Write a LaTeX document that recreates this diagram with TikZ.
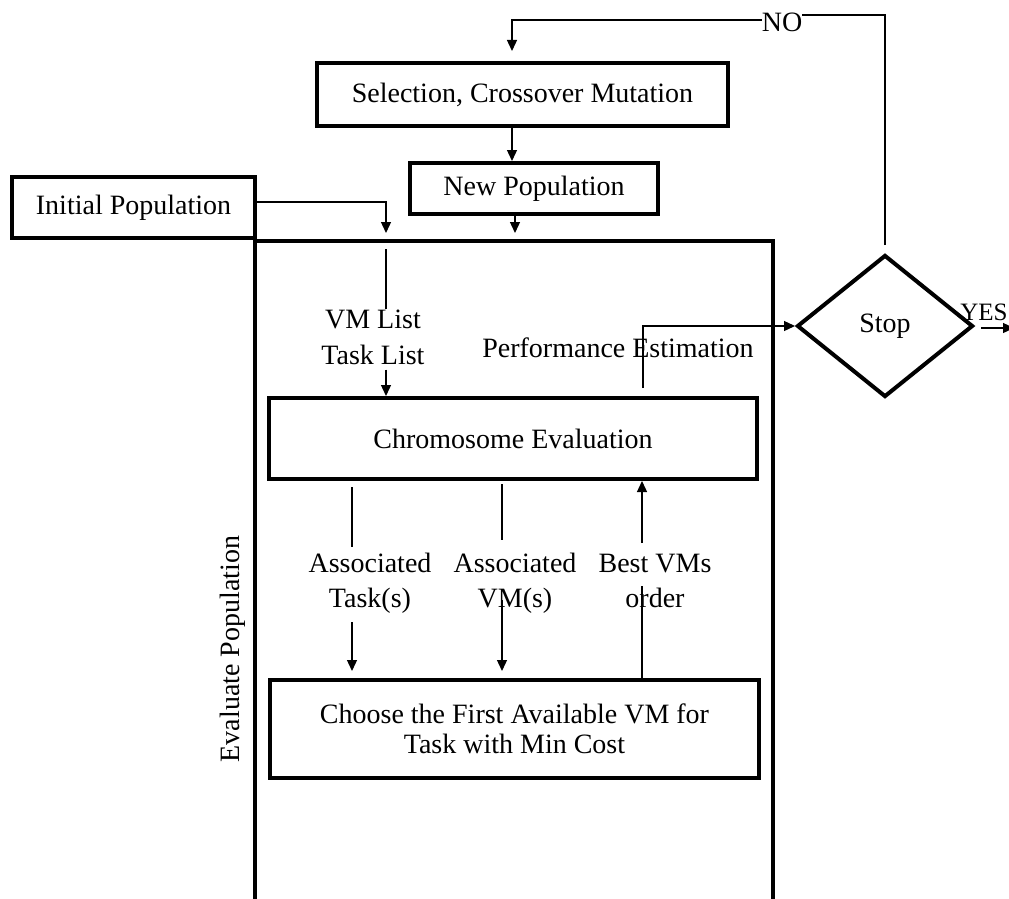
\documentclass[tikz,border=0pt]{standalone}
\usepackage{fontspec}
\setmainfont{Liberation Serif}
\usetikzlibrary{arrows.meta,shapes.geometric,calc}
\begin{document}
\begin{tikzpicture}[x=1pt,y=-1pt,
  every node/.style={font=\fontsize{28}{35}\selectfont},
  box/.style={draw, line width=4pt, inner sep=0pt},
  lbl/.style={inner sep=0pt, align=center},
  thinline/.style={line width=1.3pt},
  arr/.style={thinline, -{Triangle[length=11pt,width=10pt]}}
]
\useasboundingbox (0,0) rectangle (1009,899);

% vertical reference coordinates
\coordinate (x386) at (386,0);
\coordinate (x512) at (512,0);
\coordinate (x515) at (515,0);
\coordinate (x352) at (352,0);
\coordinate (x502) at (502,0);
\coordinate (x642) at (642,0);
\coordinate (x643) at (643,0);

% boxes
\node[box, minimum width=411, minimum height=63] (sel) at (522.5,94.5) {Selection, Crossover Mutation};
\node[box, minimum width=248, minimum height=51] (newpop) at (534,188.5) {New Population};
\node[box, minimum width=243, minimum height=61] (init) at (133.5,207.5) {Initial Population};
\node[box, minimum width=518, minimum height=680] (eval) at (514,581) {};
\node[box, minimum width=488, minimum height=81] (chrom) at (513,438.5) {Chromosome Evaluation};
\node[box, minimum width=489, minimum height=98, align=center, font=\fontsize{28}{30}\selectfont] (choose) at (514.5,729) {Choose the First Available VM for\\Task with Min Cost};
\node[draw, line width=4pt, diamond, minimum width=176, minimum height=142, inner sep=0pt] (stop) at (885,326) {Stop};

% labels
\node[lbl, rotate=90] (evlbl) at (233,649) {Evaluate Population};
\node[lbl, font=\fontsize{28}{36}\selectfont] (lists) at (373,337) {VM List\\Task List};
\node[lbl] (perf) at (618,348) {Performance Estimation};
\node[lbl] (aT) at (370,583) {Associated\\Task(s)};
\node[lbl] (aV) at (515,583) {Associated\\VM(s)};
\node[lbl] (bo) at (655,581) {Best VMs\\order};
\node[lbl] (no) at (782,22) {NO};
\node[lbl, font=\fontsize{25}{30}\selectfont] (yes) at (984,312) {YES};

\coordinate (noR) at ([yshift=7pt]no.east);
\coordinate (noL) at ([yshift=2pt]no.west);
\coordinate (yesend) at (1014,328);

% connectors
\draw[thinline, shorten <=8pt] (stop.north) |- (noR);
\draw[arr, shorten >=10pt] (noL) -| (sel.north -| x512);
\draw[arr] (sel.south -| x512) -- (newpop.north -| x512);
\draw[arr, shorten >=6pt] (newpop.south -| x515) -- (eval.north -| x515);
\draw[arr, shorten >=6pt] ([yshift=5.5pt]init.east) -| (eval.north -| x386);

\draw[thinline, shorten <=10pt] (eval.north -| x386) -- (lists.north -| x386);
\draw[arr, shorten <=5pt] (lists.south -| x386) -- (chrom.north -| x386);

\draw[arr, shorten <=8pt] (chrom.north -| x643) |- (stop.west);
\draw[arr, shorten <=6pt] ([yshift=-2pt]stop.east) -- (yesend);

\draw[thinline, shorten <=6pt, shorten >=6pt] (chrom.south -| x352) -- (aT.north -| x352);
\draw[arr, shorten <=9pt, shorten >=7pt] (aT.south -| x352) -- (choose.north -| x352);

\draw[thinline, shorten <=3pt, shorten >=13pt] (chrom.south -| x502) -- (aV.north -| x502);
\draw[arr, shorten <=-13pt, shorten >=7pt] (aV.south -| x502) -- (choose.north -| x502);

\draw[thinline, shorten >=32pt] (choose.north -| x642) -- (bo.north -| x642);
\draw[arr, shorten <=11pt] (bo.north -| x642) -- (chrom.south -| x642);
\end{tikzpicture}
\end{document}
